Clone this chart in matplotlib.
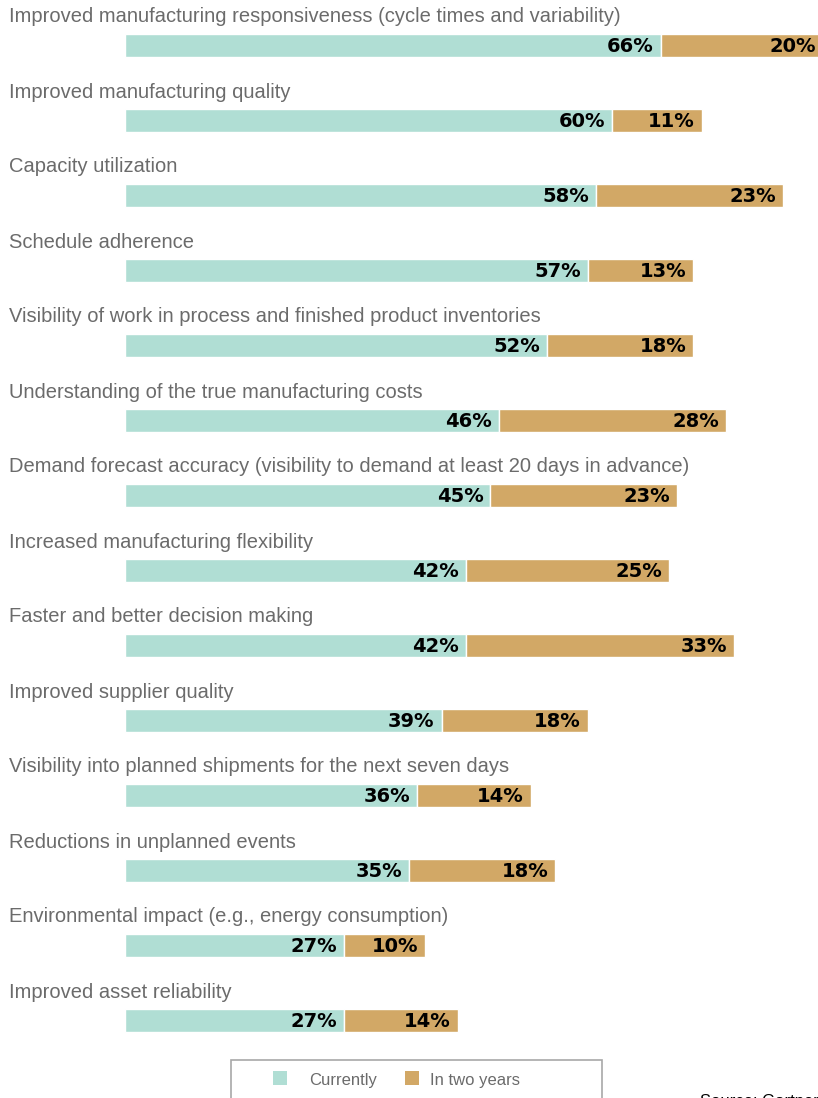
import matplotlib
matplotlib.use("Agg")
import matplotlib.pyplot as plt
from matplotlib.patches import Rectangle

categories = [
    "Improved manufacturing responsiveness (cycle times and variability)",
    "Improved manufacturing quality",
    "Capacity utilization",
    "Schedule adherence",
    "Visibility of work in process and finished product inventories",
    "Understanding of the true manufacturing costs",
    "Demand forecast accuracy (visibility to demand at least 20 days in advance)",
    "Increased manufacturing flexibility",
    "Faster and better decision making",
    "Improved supplier quality",
    "Visibility into planned shipments for the next seven days",
    "Reductions in unplanned events",
    "Environmental impact (e.g., energy consumption)",
    "Improved asset reliability",
]
currently = [66, 60, 58, 57, 52, 46, 45, 42, 42, 39, 36, 35, 27, 27]
in_two_years = [20, 11, 23, 13, 18, 28, 23, 25, 33, 18, 14, 18, 10, 14]

TEAL = "#b0ded4"
TAN = "#d2a866"
LABEL_GRAY = "#6b6b6b"

W, H = 818, 1098
x0_px, px_per_pct = 125, 8.12
row0, row_step, bar_h = 45.5, 75, 23

fig = plt.figure(figsize=(W / 100, H / 100), dpi=100)
ax = fig.add_axes([0, 0, 1, 1])
ax.set_xlim(-x0_px / px_per_pct, (W - x0_px) / px_per_pct)
ax.set_ylim(H, 0)
ax.axis("off")

ys = [row0 + row_step * i for i in range(len(categories))]
ax.barh(ys, currently, height=bar_h, color=TEAL, edgecolor="white", linewidth=1)
ax.barh(ys, in_two_years, left=currently, height=bar_h, color=TAN,
        edgecolor="white", linewidth=1)

pad = 7 / px_per_pct
xl = (9 - x0_px) / px_per_pct
for y, name, c, f in zip(ys, categories, currently, in_two_years):
    ax.text(xl, y - 28.5, name, ha="left", va="center", fontsize=14.5,
            color=LABEL_GRAY, family="Liberation Sans")
    ax.text(c - pad, y + 1, f"{c}%", ha="right", va="center", fontsize=14,
            fontweight="bold", color="black", family="DejaVu Sans")
    ax.text(c + f - pad, y + 1, f"{f}%", ha="right", va="center", fontsize=14,
            fontweight="bold", color="black", family="DejaVu Sans")

# legend box and source note, in pixel units
ov = fig.add_axes([0, 0, 1, 1])
ov.set_xlim(0, W)
ov.set_ylim(H, 0)
ov.axis("off")
ov.add_patch(Rectangle((231, 1060), 371, 60, facecolor="white",
                       edgecolor="#a8a8a8", linewidth=1.2, clip_on=True))
ov.add_patch(Rectangle((273, 1071), 14, 14, facecolor=TEAL, edgecolor="none"))
ov.text(309, 1080, "Currently", ha="left", va="center", fontsize=12,
        color=LABEL_GRAY, family="Liberation Sans")
ov.add_patch(Rectangle((405, 1071), 14, 14, facecolor=TAN, edgecolor="none"))
ov.text(430, 1080, "In two years", ha="left", va="center", fontsize=12,
        color=LABEL_GRAY, family="Liberation Sans")
ov.text(700, 1101, "Source: Gartner", ha="left", va="center", fontsize=12,
        color="black", family="Liberation Sans")

fig.savefig("out.png", dpi=100)
